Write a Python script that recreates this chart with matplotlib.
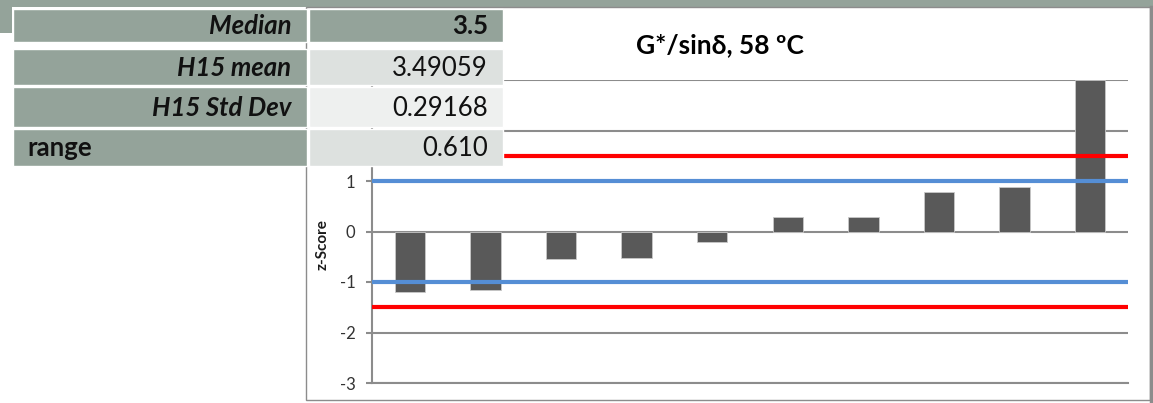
import numpy as np
import matplotlib.pyplot as plt
from matplotlib.patches import Rectangle

# z-scores per lab
labs = ['Lab 1', 'Lab 2', 'Lab 3', 'Lab 4', 'Lab 5',
        'Lab 6', 'Lab 7', 'Lab 8', 'Lab 9', 'Lab 10']
z_scores = [-1.20, -1.15, -0.55, -0.53, -0.20, 0.28, 0.28, 0.78, 0.89, 3.0]

# summary table
stat_names = ['Median', 'H15 mean', 'H15 Std Dev', 'range']
stat_values = ['3.5', '3.49059', '0.29168', '0.610']

warn_limit = 1.0
action_limit = 1.5

W, H = 1153, 403
GREEN = '#94a39a'
GRID = '#8c8c8c'
plt.rcParams['font.family'] = ['Lato', 'DejaVu Sans']

fig = plt.figure(figsize=(W / 100, H / 100), dpi=100)

# background frame, drawn in pixel coordinates
bg = fig.add_axes([0, 0, 1, 1], zorder=0)
bg.set_xlim(0, W)
bg.set_ylim(H, 0)
bg.axis('off')
bg.add_patch(Rectangle((0, 0), W, 7, color=GREEN, lw=0))
bg.add_patch(Rectangle((0, 0), 12, 33, color=GREEN, lw=0))
bg.add_patch(Rectangle((306, 7), 844, 393, facecolor='white', edgecolor=GRID, lw=1))
bg.plot([1150.5, 1150.5], [7, H], color=GRID, lw=2.5)

# main chart
ax = fig.add_axes([372 / W, (H - 383) / H, 756 / W, 303 / H], zorder=1)
ax.patch.set_alpha(0)
x = np.arange(len(labs))
ax.bar(x, z_scores, width=0.4, color='#595959', edgecolor='#c8c8c8', lw=0.6, zorder=3)
ax.set_xlim(-0.5, len(labs) - 0.5)
ax.set_ylim(-3, 3)
ax.set_yticks(np.arange(-3, 4))
ax.set_xticks([])
ax.yaxis.grid(True, color=GRID, lw=1.5)
ax.set_axisbelow(True)
for s in ['top', 'right']:
    ax.spines[s].set_visible(False)
for s in ['left', 'bottom']:
    ax.spines[s].set_color(GRID)
    ax.spines[s].set_linewidth(1.5)
ax.tick_params(axis='y', direction='out', length=4, width=1.5, color=GRID,
               labelsize=12, labelcolor='#333333', pad=8)
# labels for 2 and 3 sit behind the table
ax.set_yticklabels([str(v) if v < 2 else '' for v in range(-3, 4)])

for lim in (warn_limit, -warn_limit):
    ax.axhline(lim, color='#558ed5', lw=3, zorder=4)
for lim in (action_limit, -action_limit):
    ax.axhline(lim, color='#ff0000', lw=3, zorder=4)

fig.text(323 / W, 1 - 245 / H, 'z-Score', rotation=90, ha='center', va='center',
         fontsize=11, fontweight='bold', color='#1a1a1a')
fig.text(720 / W, 1 - 45 / H, 'G*/sinδ, 58 ºC', ha='center', va='center',
         fontsize=19, fontweight='bold', color='black')

# summary table on top
tb = fig.add_axes([0, 0, 1, 1], zorder=2)
tb.set_xlim(0, W)
tb.set_ylim(H, 0)
tb.axis('off')
rows = [(9, 42), (49, 85), (87, 127), (129, 166)]
value_colors = [GREEN, '#dde1df', '#eef0ef', '#dde1df']
for i, (y0, y1) in enumerate(rows):
    tb.add_patch(Rectangle((13, y0), 294, y1 - y0, facecolor=GREEN, edgecolor='white', lw=1))
    tb.add_patch(Rectangle((309, y0), 194, y1 - y0, facecolor=value_colors[i],
                           edgecolor='white', lw=1))
    yc = (y0 + y1) / 2 + 1
    if stat_names[i] == 'range':
        tb.text(27, yc, stat_names[i], ha='left', va='center', fontsize=18.5,
                fontweight='bold', color='#111111')
    else:
        tb.text(291, yc, stat_names[i], ha='right', va='center', fontsize=18.5,
                fontweight='bold', fontstyle='italic', color='#111111')
    tb.text(488, yc, stat_values[i], ha='right', va='center', fontsize=18.5,
            fontweight='bold' if i == 0 else 'normal', color='#111111')

fig.savefig('out.png', dpi=100)
